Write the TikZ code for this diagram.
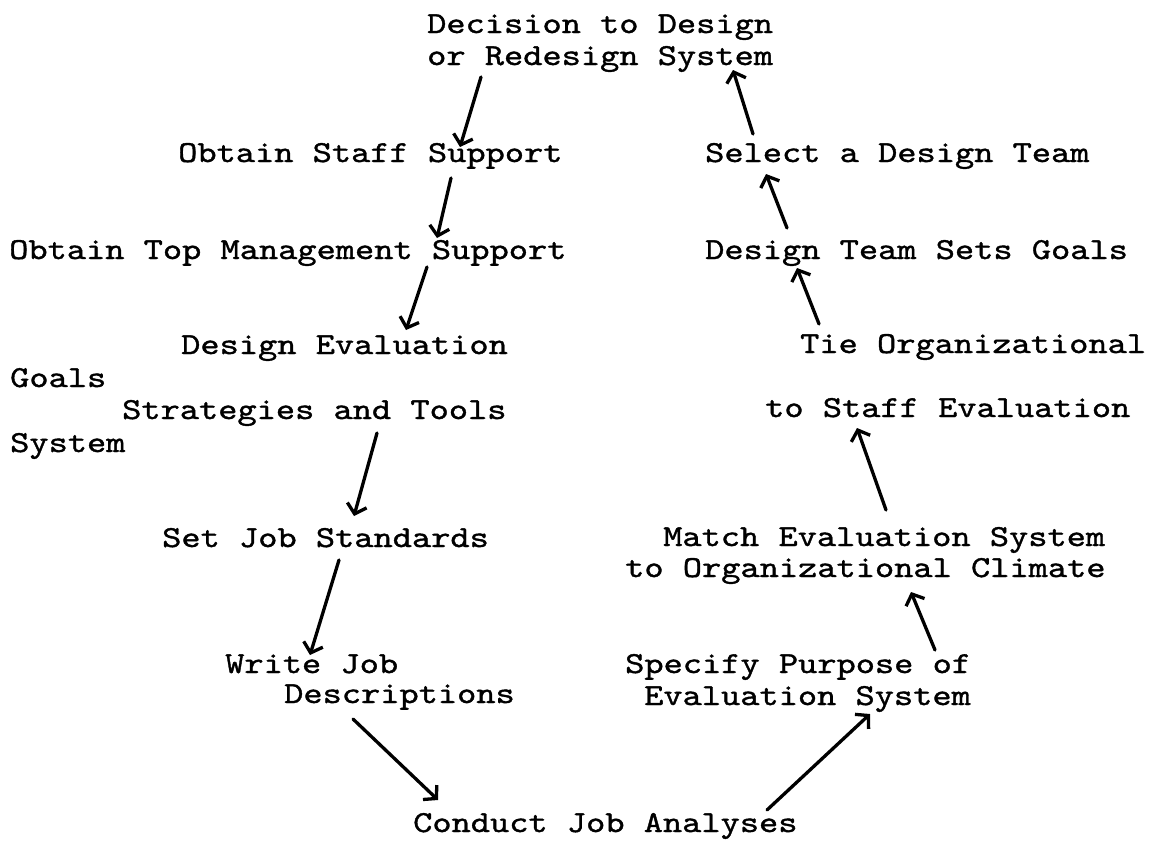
\documentclass[tikz,border=0pt]{standalone}
\usepackage{fontspec}
\newfontfamily\typewriter{lmmono10-regular.otf}[FakeStretch=1.2,FakeBold=1.2]
\usetikzlibrary{arrows.meta,calc}
\tikzset{
  lbl/.style={anchor=base west, inner sep=0pt,
    font=\typewriter\fontsize{30.5}{30.5}\selectfont},
  flow/.style={line width=3.3pt, line cap=round,
    -{Straight Barb[length=9pt,width=20pt]}},
}
\begin{document}
\begin{tikzpicture}[x=1pt,y=-1pt]
\useasboundingbox (0,0) rectangle (1150,841);

% left branch
\node[lbl] (dec1)    at (427,33)  {Decision to Design};
\node[lbl] (dec2)    at (427,65)  {or Redesign System};
\node[lbl] (staff)   at (178,162) {Obtain Staff Support};
\node[lbl] (top)     at (9,259)   {Obtain Top Management Support};
\node[lbl] (deval)   at (181,354) {Design Evaluation};
\node[lbl] (goals)   at (10,387)  {Goals};
\node[lbl] (strat)   at (122,419) {Strategies and Tools};
\node[lbl] (sys)     at (10,452)  {System};
\node[lbl] (setjob)  at (162,547) {Set Job Standards};
\node[lbl] (write)   at (225,673) {Write Job};
\node[lbl] (desc)    at (284,703) {Descriptions};
\node[lbl] (conduct) at (413,832) {Conduct Job Analyses};

% right branch
\node[lbl] (spec1)   at (625,673) {Specify Purpose of};
\node[lbl] (spec2)   at (644,705) {Evaluation System};
\node[lbl] (match1)  at (663,546) {Match Evaluation System};
\node[lbl] (match2)  at (625,577) {to Organizational Climate};
\node[lbl] (tie)     at (800,353) {Tie Organizational};
\node[lbl] (tostaff) at (765,417) {to Staff Evaluation};
\node[lbl] (goalsT)  at (705,259) {Design Team Sets Goals};
\node[lbl] (sel)     at (705,162) {Select a Design Team};

% connectors
\draw[flow] ($(dec2.base west)+(54,12)$)    -- ($(staff.base west)+(282,-15)$);
\draw[flow] ($(staff.base west)+(273,16)$)  -- ($(top.base west)+(428,-21)$);
\draw[flow] ($(top.base west)+(418,8)$)     -- ($(deval.base west)+(225,-24)$);
\draw[flow] ($(strat.base west)+(255,14)$)  -- ($(setjob.base west)+(192,-31)$);
\draw[flow] ($(setjob.base west)+(177,13)$) -- ($(write.base west)+(85,-18)$);
\draw[flow] ($(desc.base west)+(69,16)$)    -- ($(conduct.base west)+(25,-32)$);
\draw[flow] ($(conduct.base west)+(354,-22)$) -- ($(spec2.base west)+(226,9)$);
\draw[flow] ($(spec1.base west)+(310,-23)$) -- ($(match2.base west)+(286,15)$);
\draw[flow] ($(match1.base west)+(223,-36)$) -- ($(tostaff.base west)+(92,11)$);
\draw[flow] ($(tie.base west)+(19,-29)$)    -- ($(goalsT.base west)+(92,9)$);
\draw[flow] ($(goalsT.base west)+(82,-31)$) -- ($(sel.base west)+(61,12)$);
\draw[flow] ($(sel.base west)+(48,-28)$)    -- ($(dec2.base west)+(306,5)$);
\end{tikzpicture}
\end{document}
